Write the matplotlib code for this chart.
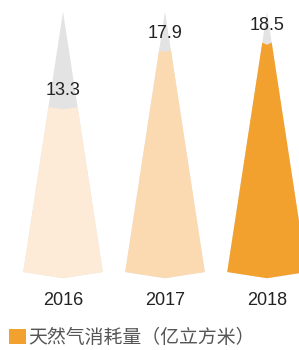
import matplotlib
matplotlib.use('Agg')
import matplotlib.pyplot as plt
from matplotlib.patches import Polygon, Patch

plt.rcParams['font.family'] = ['Liberation Sans', 'Noto Sans CJK SC', 'DejaVu Sans']

years = ['2016', '2017', '2018']
values = [13.3, 17.9, 18.5]
colors = ['#fdebd7', '#fbdab1', '#f2a12f']
legend_label = '天然气消耗量（亿立方米）'

apex = 21.0      # top of the grey spike, in value units
half_w = 0.39    # half width of the spike base, in x units
notch = 0.5      # depth of the bottom point
chev = 0.17      # small dip on top of the coloured part


def width_at(v):
    return half_w * (apex - v) / apex


fig = plt.figure(figsize=(2.99, 3.5), dpi=100)
ax = fig.add_axes([0, 0, 1, 1])
ax.set_xlim(-0.618, 2.314)
ax.set_ylim(-6.29, 21.94)
ax.axis('off')

for i, (yr, v, c) in enumerate(zip(years, values, colors)):
    grey = [(i, apex), (i + half_w, 0), (i, -notch), (i - half_w, 0)]
    ax.add_patch(Polygon(grey, closed=True, fc='#e3e3e3', ec='none'))
    w = width_at(v)
    part = [(i - w, v), (i, v - chev), (i + w, v),
            (i + half_w, 0), (i, -notch), (i - half_w, 0)]
    ax.add_patch(Polygon(part, closed=True, fc=c, ec='none'))
    ax.text(i, v + 1.0, f'{v}', ha='center', va='baseline',
            fontsize=13, color='#222222')
    ax.text(i, -2.7, yr, ha='center', va='baseline',
            fontsize=13, color='#222222')

handle = Patch(facecolor='#f2a12f', edgecolor='none')
leg = fig.legend([handle], [legend_label], loc='lower left',
                 bbox_to_anchor=(0.0, -0.022), frameon=False,
                 handlelength=0.85, handleheight=0.85, handletextpad=0.12,
                 borderaxespad=0.3, borderpad=0.2,
                 prop={'family': ['Noto Sans CJK SC'], 'size': 13.6})
for t in leg.get_texts():
    t.set_color('#555555')

fig.savefig('out.png', dpi=100)
